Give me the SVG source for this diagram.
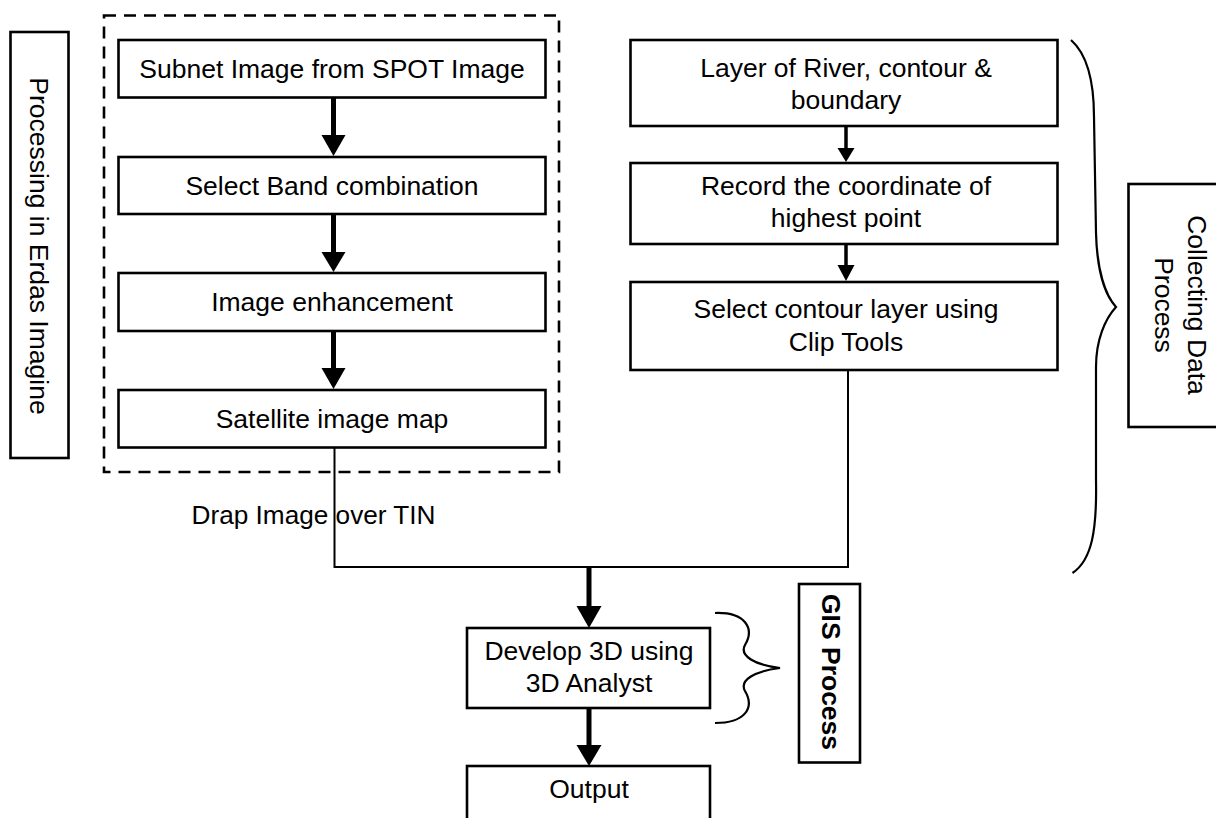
<svg xmlns="http://www.w3.org/2000/svg" width="1216" height="818" viewBox="0 0 1216 818">
<style>
.box{fill:#fff;stroke:#000;stroke-width:2.6}
.dash{fill:none;stroke:#000;stroke-width:2.6;stroke-dasharray:12,8}
.t{font-family:"Liberation Sans",Arial,sans-serif;font-size:26.5px;fill:#000;text-anchor:middle}
.b{font-weight:bold}
.thick{stroke:#000;stroke-width:5;fill:none}
.mid{stroke:#000;stroke-width:3.5;fill:none}
.thin{stroke:#000;stroke-width:2;fill:none}
.head{fill:#000}
.brace{fill:none;stroke:#000;stroke-width:2.2}
</style>
<rect width="1216" height="818" fill="#fff"/>
<g id="erdas-label">
<rect class="box" x="10.5" y="32" width="58" height="426"/>
<text class="t" transform="translate(39,246) rotate(90)" x="0" y="9.5">Processing in Erdas Imagine</text>
</g>
<g id="erdas-group">
<rect class="dash" x="104" y="15.5" width="455" height="456.5"/>
</g>
<g id="subnet">
<rect class="box" x="118.5" y="40" width="427" height="57.5"/>
<text class="t" x="332" y="78">Subnet Image from SPOT Image</text>
</g>
<g id="band">
<rect class="box" x="118.5" y="157" width="427" height="57"/>
<text class="t" x="332" y="195">Select Band combination</text>
</g>
<g id="enhance">
<rect class="box" x="118.5" y="273" width="427" height="58"/>
<text class="t" x="332" y="311">Image enhancement</text>
</g>
<g id="satmap">
<rect class="box" x="118.5" y="390" width="427" height="57.5"/>
<text class="t" x="332" y="428">Satellite image map</text>
</g>
<g id="river">
<rect class="box" x="630.5" y="40" width="427" height="86"/>
<text class="t" x="846" y="77">Layer of River, contour &amp;</text>
<text class="t" x="846" y="109">boundary</text>
</g>
<g id="record">
<rect class="box" x="630.5" y="163" width="427" height="81"/>
<text class="t" x="846" y="195">Record the coordinate of</text>
<text class="t" x="846" y="227">highest point</text>
</g>
<g id="clip">
<rect class="box" x="630.5" y="282" width="427" height="88"/>
<text class="t" x="846" y="318">Select contour layer using</text>
<text class="t" x="846" y="351">Clip Tools</text>
</g>
<g id="collecting-label">
<path class="brace" d="M1071,40 C1088,55 1094,85 1094,117 L1096,233 C1097,270 1105,295 1116,307 C1105,319 1096,340 1096,367 L1096,480 C1097,530 1092,560 1072.5,573"/>
<rect class="box" x="1128.5" y="184" width="100" height="243"/>
<text class="t" transform="translate(1180,305) rotate(90)" x="0" y="-7.5">Collecting Data</text>
<text class="t" transform="translate(1180,305) rotate(90)" x="0" y="25.5">Process</text>
</g>
<g id="develop">
<rect class="box" x="467" y="628" width="243" height="80"/>
<text class="t" x="589" y="660">Develop 3D using</text>
<text class="t" x="589" y="692">3D Analyst</text>
</g>
<g id="output">
<rect class="box" x="467" y="766" width="243" height="60"/>
<text class="t" x="589" y="798">Output</text>
</g>
<g id="gis-label">
<path class="brace" d="M715,613 C745,612 755,628 745,645 C739,656 755,665 780,668 C755,671 739,680 745,691 C755,708 745,723 715,723"/>
<rect class="box" x="799" y="584" width="61" height="178.5"/>
<text class="t b" transform="translate(831,672) rotate(90)" x="0" y="9.5">GIS Process</text>
</g>
<g id="connectors">
<line class="thick" x1="333.5" y1="97" x2="333.5" y2="137"/>
<polygon class="head" points="321.5,135 345.5,135 333.5,156"/>
<line class="thick" x1="333.5" y1="214" x2="333.5" y2="254"/>
<polygon class="head" points="321.5,252 345.5,252 333.5,272"/>
<line class="thick" x1="333.5" y1="331" x2="333.5" y2="370"/>
<polygon class="head" points="321.5,368 345.5,368 333.5,389"/>
<line class="mid" x1="846" y1="126" x2="846" y2="150"/>
<polygon class="head" points="837.5,148 854.5,148 846,162"/>
<line class="mid" x1="846" y1="244" x2="846" y2="267"/>
<polygon class="head" points="837.5,265 854.5,265 846,281"/>
<polyline class="thin" points="334.5,447 334.5,567 848,567 848,370"/>
<line class="thick" x1="589" y1="567" x2="589" y2="608"/>
<polygon class="head" points="576.5,606 601.5,606 589,628"/>
<line class="thick" x1="589" y1="708" x2="589" y2="747"/>
<polygon class="head" points="576.5,745 601.5,745 589,766"/>
<text class="t" style="text-anchor:start;font-size:26.2px" x="191.5" y="524">Drap Image over TIN</text>
</g>
</svg>
